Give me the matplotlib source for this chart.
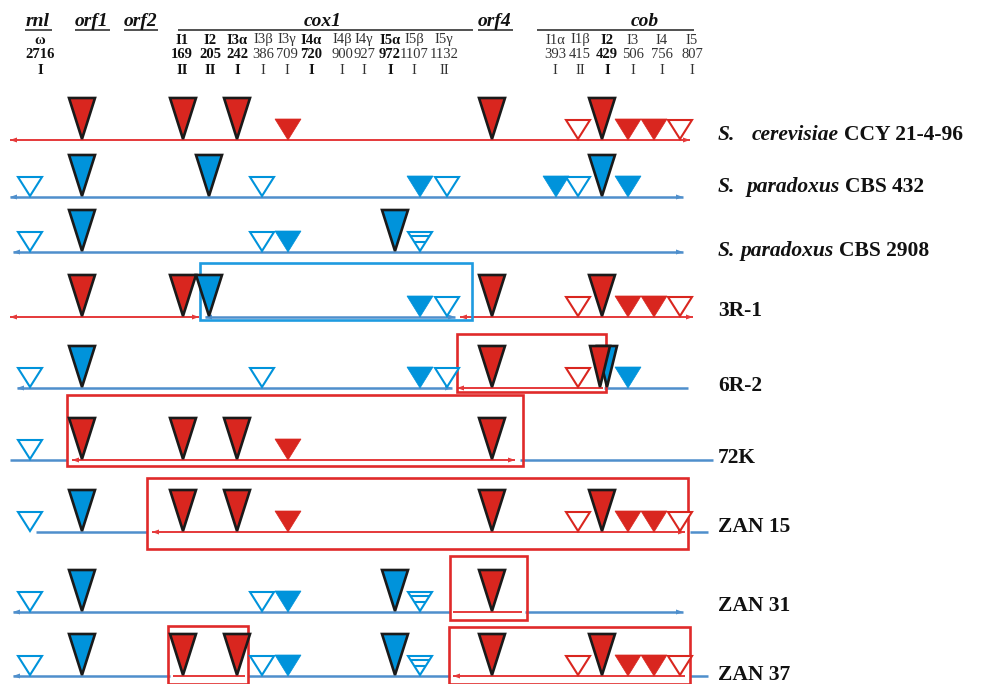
import matplotlib
matplotlib.use("Agg")
import matplotlib.pyplot as plt
from matplotlib.patches import Polygon, Rectangle

# ---------------- data ----------------
genes = ["rnl", "orf1", "orf2", "cox1", "orf4", "cob"]

rnl_names = ["ω"]
rnl_pos = ["2716"]
rnl_group = ["I"]
rnl_bold = [1]

cox1_names = ["I1", "I2", "I3α", "I3β", "I3γ", "I4α", "I4β", "I4γ", "I5α", "I5β", "I5γ"]
cox1_pos = ["169", "205", "242", "386", "709", "720", "900", "927", "972", "1107", "1132"]
cox1_group = ["II", "II", "I", "I", "I", "I", "I", "I", "I", "I", "II"]
cox1_bold = [1, 1, 1, 0, 0, 1, 0, 0, 1, 0, 0]

cob_names = ["I1α", "I1β", "I2", "I3", "I4", "I5"]
cob_pos = ["393", "415", "429", "506", "756", "807"]
cob_group = ["I", "II", "I", "I", "I", "I"]
cob_bold = [0, 0, 1, 0, 0, 0]

strains = ["S. cerevisiae CCY 21-4-96", "S. paradoxus CBS 432", "S. paradoxus CBS 2908",
           "3R-1", "6R-2", "72K", "ZAN 15", "ZAN 31", "ZAN 37"]

# intron marks per strain: (site, kind, colour)  kind: L=large, F=small filled, O=open, S=striped, D=dual
marks_cer = [("orf1", "L", "r"), ("I1", "L", "r"), ("I3α", "L", "r"), ("I3γ", "F", "r"),
             ("orf4", "L", "r"), ("cob I1β", "O", "r"), ("cob I2", "L", "r"),
             ("cob I3", "F", "r"), ("cob I4", "F", "r"), ("cob I5", "O", "r")]
marks_cbs432 = [("ω", "O", "b"), ("orf1", "L", "b"), ("I2", "L", "b"), ("I3β", "O", "b"),
                ("I5β", "F", "b"), ("I5γ", "O", "b"), ("cob I1α", "F", "b"),
                ("cob I1β", "O", "b"), ("cob I2", "L", "b"), ("cob I3", "F", "b")]
marks_cbs2908 = [("ω", "O", "b"), ("orf1", "L", "b"), ("I3β", "O", "b"), ("I3γ", "F", "b"),
                 ("I5α", "L", "b"), ("I5β", "S", "b")]
marks_3r1 = [("orf1", "L", "r"), ("I1", "L", "r"), ("I2", "L", "b"), ("I5β", "F", "b"),
             ("I5γ", "O", "b"), ("orf4", "L", "r"), ("cob I1β", "O", "r"), ("cob I2", "L", "r"),
             ("cob I3", "F", "r"), ("cob I4", "F", "r"), ("cob I5", "O", "r")]
marks_6r2 = [("ω", "O", "b"), ("orf1", "L", "b"), ("I3β", "O", "b"), ("I5β", "F", "b"),
             ("I5γ", "O", "b"), ("orf4", "L", "r"), ("cob I1β", "O", "r"), ("cob I2", "D", "rb"),
             ("cob I3", "F", "b")]
marks_72k = [("ω", "O", "b"), ("orf1", "L", "r"), ("I1", "L", "r"), ("I3α", "L", "r"),
             ("I3γ", "F", "r"), ("orf4", "L", "r")]
marks_zan15 = [("ω", "O", "b"), ("orf1", "L", "b"), ("I1", "L", "r"), ("I3α", "L", "r"),
               ("I3γ", "F", "r"), ("orf4", "L", "r"), ("cob I1β", "O", "r"), ("cob I2", "L", "r"),
               ("cob I3", "F", "r"), ("cob I4", "F", "r"), ("cob I5", "O", "r")]
marks_zan31 = [("ω", "O", "b"), ("orf1", "L", "b"), ("I3β", "O", "b"), ("I3γ", "F", "b"),
               ("I5α", "L", "b"), ("I5β", "S", "b"), ("orf4", "L", "r")]
marks_zan37 = [("ω", "O", "b"), ("orf1", "L", "b"), ("I1", "L", "r"), ("I3α", "L", "r"),
               ("I3β", "O", "b"), ("I3γ", "F", "b"), ("I5α", "L", "b"), ("I5β", "S", "b"),
               ("orf4", "L", "r"), ("cob I1β", "O", "r"), ("cob I2", "L", "r"),
               ("cob I3", "F", "r"), ("cob I4", "F", "r"), ("cob I5", "O", "r")]
all_marks = [marks_cer, marks_cbs432, marks_cbs2908, marks_3r1, marks_6r2,
             marks_72k, marks_zan15, marks_zan31, marks_zan37]

# ---------------- layout (pixel space) ----------------
RED = "#D9261F"
BLUE = "#0093DB"
RED_LINE = "#E5393A"
BLUE_LINE = "#4F8FCC"
BOX_RED = "#E02A2A"
BOX_BLUE = "#1E9BE0"
COL = {"r": RED, "b": BLUE}
LINECOL = {"r": RED_LINE, "b": BLUE_LINE}

site_x = {"ω": 30, "orf1": 82, "I1": 183, "I2": 209, "I3α": 237, "I3β": 262, "I3γ": 288,
          "I5α": 395, "I5β": 420, "I5γ": 447, "orf4": 492, "cob I1α": 556, "cob I1β": 578,
          "cob I2": 602, "cob I3": 628, "cob I4": 654, "cob I5": 680}
row_y = [140, 197, 252, 317, 388, 460, 532, 612, 676]
label_y = [135, 187, 251, 311, 386, 458, 527, 606, 675]

# backbone segments: (x0, x1, colour, left arrow, right arrow)
segments = [
    [(10, 690, "r", 1, 1)],
    [(10, 683, "b", 1, 1)],
    [(13, 683, "b", 1, 1)],
    [(10, 199, "r", 1, 1), (205, 455, "b", 1, 1), (460, 693, "r", 1, 1)],
    [(17, 452, "b", 1, 1), (457, 603, "r", 1, 0), (604, 688, "b", 0, 0)],
    [(10, 67, "b", 0, 0), (72, 515, "r", 1, 1), (520, 713, "b", 0, 0)],
    [(36, 147, "b", 0, 0), (152, 685, "r", 1, 1), (690, 708, "b", 0, 0)],
    [(13, 450, "b", 1, 0), (453, 522, "r", 0, 0), (525, 683, "b", 0, 1)],
    [(13, 170, "b", 1, 0), (173, 245, "r", 0, 0), (248, 450, "b", 0, 0),
     (453, 685, "r", 1, 0), (690, 708, "b", 0, 0)],
]
# boxes: (x0, y0, x1, y1, colour)
boxes = [
    (200, 263, 472, 320, BOX_BLUE),
    (457, 334, 606, 392, BOX_RED),
    (67, 395, 523, 466, BOX_RED),
    (147, 478, 688, 549, BOX_RED),
    (450, 556, 527, 620, BOX_RED),
    (168, 626, 248, 684, BOX_RED),
    (449, 627, 690, 684, BOX_RED),
]

gene_x = [38, 92, 141, 323, 495, 645]
gene_rule = {"rnl": (25, 52), "orf1": (75, 110), "orf2": (124, 158), "cox1": (178, 473),
             "orf4": (478, 513), "cob": (537, 694)}
rnl_hx = [40]
cox1_hx = [182, 210, 237, 263, 287, 311, 342, 364, 390, 414, 444]
cob_hx = [555, 580, 607, 633, 662, 692]

SERIF = "Liberation Serif"

fig = plt.figure(figsize=(9.98, 6.84), dpi=100)
ax = fig.add_axes([0, 0, 1, 1])
ax.set_xlim(0, 998)
ax.set_ylim(684, 0)
ax.axis("off")

# headers
for g, gx in zip(genes, gene_x):
    ax.text(gx, 26, g, family=SERIF, style="italic", weight="bold", fontsize=14,
            ha="center", va="baseline", color="#111")
    x0, x1 = gene_rule[g]
    ax.plot([x0, x1], [29.5, 29.5], color="#222", lw=1.1, solid_capstyle="butt")

def sub_headers(xs, names, pos, grp, bold):
    for x, n, p, gr, b in zip(xs, names, pos, grp, bold):
        w = "bold" if b else "normal"
        c = "#111" if b else "#333"
        for yy, s in ((40, n), (55, p), (71, gr)):
            ax.text(x, yy, s, family=SERIF, weight=w, fontsize=10.5, ha="center",
                    va="center", color=c)

sub_headers(rnl_hx, rnl_names, rnl_pos, rnl_group, rnl_bold)
sub_headers(cox1_hx, cox1_names, cox1_pos, cox1_group, cox1_bold)
sub_headers(cob_hx, cob_names, cob_pos, cob_group, cob_bold)

# backbones
for y, segs in zip(row_y, segments):
    for x0, x1, c, la, ra in segs:
        col = LINECOL[c]
        lw = 1.8 if c == "b" else 1.4
        ax.plot([x0, x1], [y, y], color=col, lw=lw, solid_capstyle="butt", zorder=2)
        if la:
            ax.add_patch(Polygon([(x0, y), (x0 + 7, y - 2.5), (x0 + 7, y + 2.5)],
                                 closed=True, color=col, lw=0, zorder=2))
        if ra:
            ax.add_patch(Polygon([(x1, y), (x1 - 7, y - 2.5), (x1 - 7, y + 2.5)],
                                 closed=True, color=col, lw=0, zorder=2))

for x0, y0, x1, y1, c in boxes:
    ax.add_patch(Rectangle((x0, y0), x1 - x0, y1 - y0, fill=False, edgecolor=c,
                           lw=1.9, zorder=3))

# triangles
LW_, LH = 26, 42
SW, SH = 26, 20

def large(x, y, fc, w=LW_):
    ax.add_patch(Polygon([(x - w / 2, y - LH), (x + w / 2, y - LH), (x, y - 1)], closed=True,
                         facecolor=fc, edgecolor="#1a1a1a", lw=1.9, joinstyle="miter", zorder=5))

for y, mk in zip(row_y, all_marks):
    for site, kind, c in mk:
        x = site_x[site]
        if kind == "L":
            large(x, y, COL[c])
        elif kind == "D":
            large(x + 5, y, BLUE, w=20)
            large(x - 2, y, RED, w=20)
        elif kind == "F":
            ax.add_patch(Polygon([(x - SW / 2, y - SH - 1), (x + SW / 2, y - SH - 1), (x, y)],
                                 closed=True, facecolor=COL[c], edgecolor=COL[c], lw=0.5, zorder=5))
        elif kind in ("O", "S"):
            top = y - SH
            ax.add_patch(Polygon([(x - SW / 2 + 1, top), (x + SW / 2 - 1, top), (x, y - 1)],
                                 closed=True, facecolor="white", edgecolor=COL[c], lw=1.5,
                                 joinstyle="miter", zorder=5))
            if kind == "S":
                for f in (0.22, 0.55):
                    hy = top + f * (SH - 1)
                    half = (SW / 2 - 1) * (1 - f)
                    ax.plot([x - half, x + half], [hy, hy], color=COL[c], lw=1.5,
                            solid_capstyle="butt", zorder=6)

# strain labels
LX = 718
FS = 15.5

def label(y, parts):
    t = ax.text(LX, y, parts[0][0], family=SERIF, weight="bold", style=parts[0][1],
                fontsize=FS, ha="left", va="center", color="#111")
    for s, st, gap in parts[1:]:
        t = ax.annotate(s, xy=(1, 0), xycoords=t, xytext=(gap, 0), textcoords="offset points",
                        family=SERIF, weight="bold", style=st, fontsize=FS,
                        ha="left", va="bottom", color="#111")

label(label_y[0], [("S.", "italic"), ("cerevisiae", "italic", 12), ("CCY 21-4-96", "normal", 3.5)])
label(label_y[1], [("S.", "italic"), ("paradoxus", "italic", 8), ("CBS 432", "normal", 4)])
label(label_y[2], [("S.", "italic"), ("paradoxus", "italic", 3.5), ("CBS 2908", "normal", 4)])
for i in range(3, len(strains)):
    ax.text(LX, label_y[i], strains[i], family=SERIF, weight="bold", fontsize=FS,
            ha="left", va="center", color="#111")

fig.savefig("out.png", dpi=100)
